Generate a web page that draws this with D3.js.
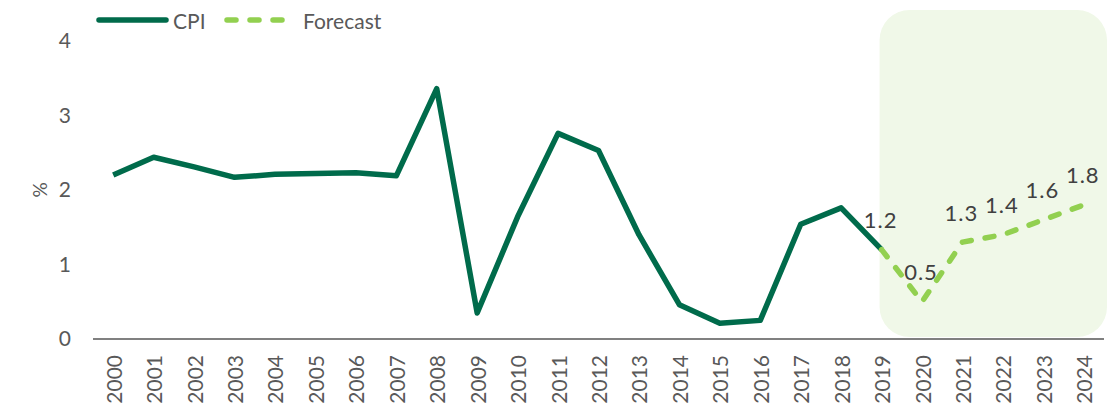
<!DOCTYPE html>
<html>
<head>
<meta charset="utf-8">
<script src="https://cdn.jsdelivr.net/npm/d3@7"></script>
<style>
  html, body { margin: 0; padding: 0; background: #fff; }
  svg { display: block; font-family: Lato, "Noto Sans", sans-serif; }
</style>
</head>
<body>
<svg id="chart" width="1112" height="411"></svg>
<script>
// Annual CPI inflation (%) with forecast period
const years = ["2000","2001","2002","2003","2004","2005","2006","2007","2008","2009",
               "2010","2011","2012","2013","2014","2015","2016","2017","2018","2019",
               "2020","2021","2022","2023","2024"];
const cpiYears = years.slice(0, 20);
const cpiValues = [2.20, 2.44, 2.31, 2.17, 2.21, 2.22, 2.23, 2.19, 3.36, 0.35,
                   1.64, 2.76, 2.53, 1.40, 0.46, 0.21, 0.25, 1.54, 1.76, 1.2];
const forecastYears = ["2019","2020","2021","2022","2023","2024"];
const forecastValues = [1.2, 0.5, 1.3, 1.4, 1.6, 1.8];
const forecastLabels = ["1.2","0.5","1.3","1.4","1.6","1.8"];
const yTicks = [0, 1, 2, 3, 4];

const cpiColor = "#006B4B";
const forecastColor = "#92D050";
const textColor = "#595959";

const svg = d3.select("#chart");

const x = d3.scaleBand().domain(years).range([93, 1104]).padding(0);
const xc = d => x(d) + x.bandwidth() / 2;
const y = d3.scaleLinear().domain([0, 4]).range([339, 41]);

// Shaded forecast panel
const panelX0 = xc("2019") - 2;
const panelX1 = x.range()[1] + 3;
svg.append("rect")
  .attr("x", panelX0)
  .attr("y", y(4) - 31)
  .attr("width", panelX1 - panelX0)
  .attr("height", y(0) - 2 - (y(4) - 31))
  .attr("rx", 30).attr("ry", 30)
  .attr("fill", "#F0F8E8");

// Y axis tick labels
const yAxis = d3.axisLeft(y).tickValues(yTicks).tickSize(0).tickPadding(0).tickFormat(d3.format("d"));
svg.append("g")
  .attr("transform", "translate(71,0)")
  .call(yAxis)
  .call(g => g.select(".domain").remove())
  .call(g => g.selectAll("text")
    .attr("fill", textColor)
    .style("font-family", "Lato, 'Noto Sans', sans-serif")
    .style("font-size", "21px"));

// Y axis title
svg.append("text")
  .attr("transform", `translate(39,${y(2)}) rotate(-90)`)
  .attr("text-anchor", "middle")
  .attr("dominant-baseline", "central")
  .attr("fill", textColor)
  .style("font-size", "19px")
  .text("%");

// X axis: baseline and rotated year labels
const xAxis = d3.axisBottom(x).tickSize(0).tickPadding(0);
svg.append("g")
  .attr("transform", `translate(0,${y(0)})`)
  .call(xAxis)
  .call(g => g.select(".domain")
    .attr("stroke", "#808080")
    .attr("stroke-width", 2)
    .attr("d", `M${x.range()[0]},0H${x.range()[1]}`))
  .call(g => g.selectAll("text")
    .attr("fill", textColor)
    .style("font-family", "Lato, 'Noto Sans', sans-serif")
    .style("font-size", "21px")
    .attr("text-anchor", "end")
    .attr("dominant-baseline", "central")
    .attr("transform", "translate(0,16) rotate(-90)")
    .attr("x", 0).attr("y", 0).attr("dy", null));

// CPI line
const line = d3.line().x(d => xc(d[0])).y(d => y(d[1]));
svg.append("path")
  .datum(d3.zip(cpiYears, cpiValues))
  .attr("d", line)
  .attr("fill", "none")
  .attr("stroke", cpiColor)
  .attr("stroke-width", 5.5)
  .attr("stroke-linejoin", "round");

// Forecast line
svg.append("path")
  .datum(d3.zip(forecastYears, forecastValues))
  .attr("d", line)
  .attr("fill", "none")
  .attr("stroke", forecastColor)
  .attr("stroke-width", 5.5)
  .attr("stroke-linecap", "round")
  .attr("stroke-dasharray", "9,14");

// Forecast value labels
svg.append("g")
  .selectAll("text")
  .data(d3.zip(forecastYears, forecastValues, forecastLabels))
  .join("text")
  .attr("x", d => xc(d[0]) - 1)
  .attr("y", d => y(d[1]) - 30)
  .attr("text-anchor", "middle")
  .attr("dominant-baseline", "central")
  .attr("fill", "#404040")
  .style("font-size", "22px")
  .style("letter-spacing", "1px")
  .text(d => d[2]);

// Legend
const legend = svg.append("g");
legend.append("line")
  .attr("x1", 99).attr("x2", 166).attr("y1", 20).attr("y2", 20)
  .attr("stroke", cpiColor).attr("stroke-width", 5.5).attr("stroke-linecap", "round");
legend.append("text")
  .attr("x", 173).attr("y", 20)
  .attr("dominant-baseline", "central")
  .attr("fill", textColor)
  .style("font-size", "21px")
  .text("CPI");
legend.append("line")
  .attr("x1", 227).attr("x2", 285).attr("y1", 20).attr("y2", 20)
  .attr("stroke", forecastColor).attr("stroke-width", 5.5).attr("stroke-linecap", "round")
  .attr("stroke-dasharray", "9,14");
legend.append("text")
  .attr("x", 303).attr("y", 20)
  .attr("dominant-baseline", "central")
  .attr("fill", textColor)
  .style("font-size", "21px")
  .text("Forecast");
</script>
</body>
</html>
